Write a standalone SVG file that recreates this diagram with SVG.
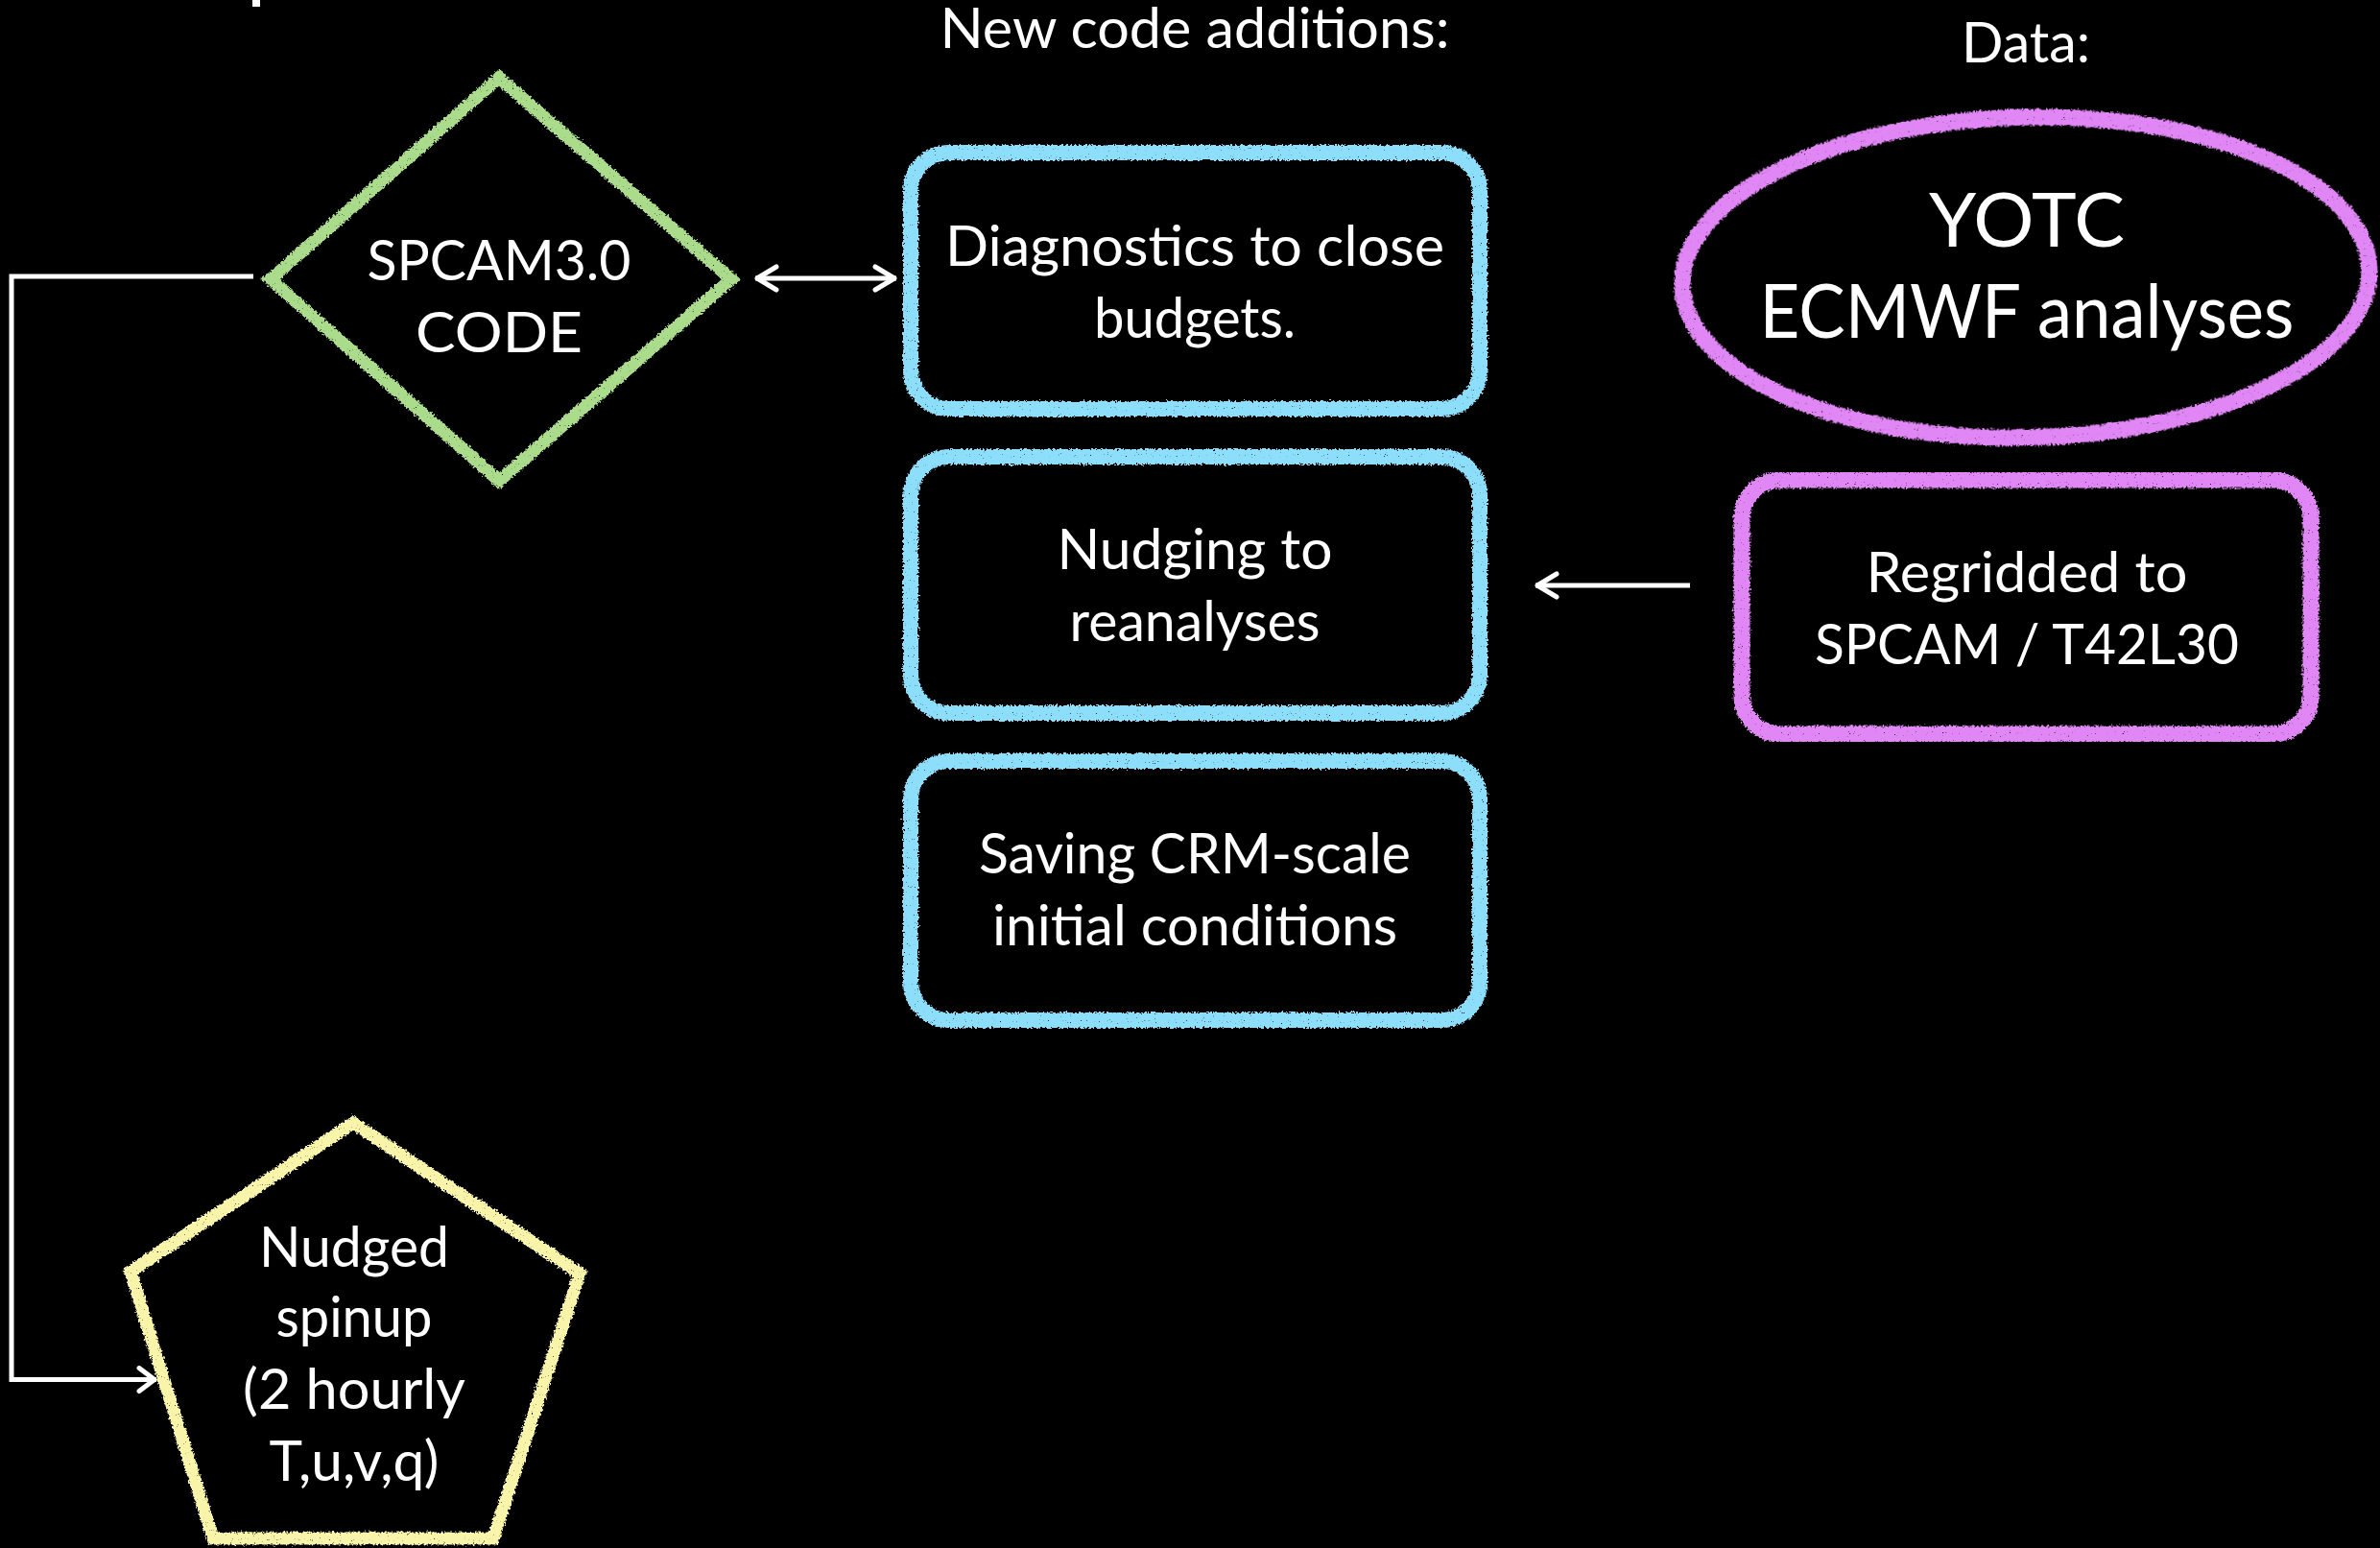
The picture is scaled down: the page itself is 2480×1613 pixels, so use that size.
<svg xmlns="http://www.w3.org/2000/svg" width="2480" height="1613" viewBox="0 0 2480 1613">
<defs>
<filter id="chalk" x="-3%" y="-3%" width="106%" height="106%">
<feTurbulence type="fractalNoise" baseFrequency="0.45" numOctaves="2" seed="4" result="n"/>
<feDisplacementMap in="SourceGraphic" in2="n" scale="6" xChannelSelector="R" yChannelSelector="G" result="d"/>
<feTurbulence type="fractalNoise" baseFrequency="0.9" numOctaves="1" seed="11" result="s"/>
<feColorMatrix in="s" type="matrix" values="0 0 0 0 0  0 0 0 0 0  0 0 0 0 0  9 0 0 0 -1.7" result="m"/>
<feComposite in="d" in2="m" operator="in"/>
</filter>
<marker id="arr" viewBox="0 0 26 30" refX="25" refY="15" markerWidth="26" markerHeight="30" markerUnits="userSpaceOnUse" orient="auto-start-reverse">
<path d="M3,3 L23,15 L3,27" fill="none" stroke="#fff" stroke-width="5" stroke-linecap="round" stroke-linejoin="round"/>
</marker>
<marker id="arrs" viewBox="0 0 22 30" refX="21" refY="15" markerWidth="22" markerHeight="30" markerUnits="userSpaceOnUse" orient="auto">
<path d="M3,3 L19,15 L3,27" fill="none" stroke="#fff" stroke-width="5" stroke-linecap="round" stroke-linejoin="round"/>
</marker>
</defs>
<style>
text{font-family:Lato,"Open Sans","Liberation Sans",sans-serif;fill:#fff;text-anchor:middle;font-size:59px}
.big{font-size:77px}
.sh{fill:none;filter:url(#chalk)}
.green{stroke:#aadc8c;stroke-width:13}
.blue{stroke:#8cdefa;stroke-width:16}
.purple{stroke:#e187f5;stroke-width:17}
.yellow{stroke:#f8f4aa;stroke-width:13}
.con{fill:none;stroke:#fff;stroke-width:5}
</style>
<rect width="2480" height="1613" fill="#000"/>
<rect x="263" y="0" width="8" height="7" fill="#fff"/>
<text x="1245" y="50" textLength="531" lengthAdjust="spacingAndGlyphs">New code additions:</text>
<text x="2111" y="65" textLength="134" lengthAdjust="spacingAndGlyphs">Data:</text>
<g id="connectors">
<polyline class="con" points="264,288 12,288 12,1437.5 163,1437.5" marker-end="url(#arrs)"/>
<line class="con" x1="787" y1="290" x2="934" y2="290" marker-start="url(#arr)" marker-end="url(#arr)"/>
<line class="con" x1="1761" y1="610" x2="1600" y2="610" marker-end="url(#arr)"/>
</g>
<g id="spcam">
<polygon class="sh green" points="520,81 762,291 520,501 282,291" stroke-linejoin="miter"/>
<text x="520" y="292" textLength="275" lengthAdjust="spacingAndGlyphs">SPCAM3.0</text>
<text x="520" y="367" textLength="174" lengthAdjust="spacingAndGlyphs">CODE</text>
</g>
<g id="diagnostics">
<rect class="sh blue" x="949" y="159" width="593" height="267" rx="40"/>
<text x="1245" y="277" textLength="520" lengthAdjust="spacingAndGlyphs">Diagnostics to close</text>
<text x="1245" y="352" textLength="210" lengthAdjust="spacingAndGlyphs">budgets.</text>
</g>
<g id="nudging">
<rect class="sh blue" x="949" y="476" width="593" height="267" rx="40"/>
<text x="1245" y="593" textLength="287" lengthAdjust="spacingAndGlyphs">Nudging to</text>
<text x="1245" y="668" textLength="261" lengthAdjust="spacingAndGlyphs">reanalyses</text>
</g>
<g id="saving">
<rect class="sh blue" x="949" y="793" width="593" height="270" rx="40"/>
<text x="1245" y="910" textLength="450" lengthAdjust="spacingAndGlyphs">Saving CRM-scale</text>
<text x="1245" y="985" textLength="422" lengthAdjust="spacingAndGlyphs">initial conditions</text>
</g>
<g id="yotc">
<ellipse class="sh purple" cx="2111" cy="289" rx="358" ry="167" transform="rotate(-1.3 2111 289)"/>
<text class="big" x="2112" y="257" textLength="204" lengthAdjust="spacingAndGlyphs">YOTC</text>
<text class="big" x="2112" y="352" textLength="557" lengthAdjust="spacingAndGlyphs">ECMWF analyses</text>
</g>
<g id="regridded">
<rect class="sh purple" x="1815" y="500" width="593" height="265" rx="40"/>
<text x="2112" y="617" textLength="335" lengthAdjust="spacingAndGlyphs">Regridded to</text>
<text x="2112" y="692" textLength="442" lengthAdjust="spacingAndGlyphs">SPCAM / T42L30</text>
</g>
<g id="spinup">
<polygon class="sh yellow" points="368,1170 604,1327 514,1603 222,1603 136,1325"/>
<text x="369" y="1320" textLength="198" lengthAdjust="spacingAndGlyphs">Nudged</text>
<text x="369" y="1393" textLength="163" lengthAdjust="spacingAndGlyphs">spinup</text>
<text x="369" y="1468" textLength="232" lengthAdjust="spacingAndGlyphs">(2 hourly</text>
<text x="369" y="1543" textLength="177" lengthAdjust="spacingAndGlyphs">T,u,v,q)</text>
</g>
</svg>
